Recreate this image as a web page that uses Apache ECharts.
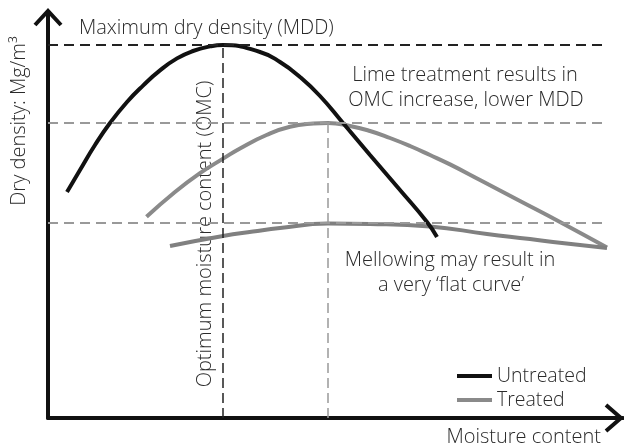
<!DOCTYPE html>
<html>
<head>
<meta charset="utf-8">
<script src="https://cdn.jsdelivr.net/npm/echarts@6/dist/echarts.min.js"></script>
<style>html,body{margin:0;padding:0;background:#fff}#c{width:624px;height:446px}</style>
</head>
<body>
<div id="c"></div>
<script>
// Schematic compaction curves (arbitrary units: moisture content 0-115, dry density 0-101.5)
var untreated = [[3.8,56.5],[6.4,62],[9.4,68.25],[12.4,73.75],[15.8,79],[19,83.1],[22.4,86.9],[25.8,89.9],[29,91.75],[32.4,92.9],[35,93.25],[42.4,91.5],[46.4,89],[50.4,85.25],[54.4,80.5],[59,73.75],[64.4,65.75],[70.4,57],[75.8,49],[77.8,45.25]];
var treated = [[19.7,50.3],[25.1,56.2],[30.4,61.2],[35.1,64.9],[38.4,67.4],[43.7,70.75],[48.4,72.8],[53.1,73.6],[56,73.75],[60.4,73],[64.4,71.75],[68.4,70],[72.4,68],[76.4,65.75],[80.4,63.4],[86.4,59.5],[94.4,54.25],[102.4,49],[111.8,42.6]];
var mellowed = [[24.4,43],[35,45.5],[41,46.6],[46.4,47.5],[56,48.6],[64.4,48.5],[76.4,47.9],[87.8,46],[96.4,44.75],[101,44],[111.8,42.5]];
var mddUntreated = 93.25, omcUntreated = 35;
var mddTreated = 73.75, omcTreated = 56;
var mddMellowed = 48.75;
var guideEnd = 111;

var chart = echarts.init(document.getElementById('c'));
var FONT = '"Open Sans", "Noto Sans", sans-serif';
var TXT = '#2a2a2a';
var F = '300 20px ' + FONT;
function dashed(color){ return {color:color, width:2, type:[10,6]}; }
chart.setOption({
  animation:false,
  grid:{left:48, top:12, right:1, bottom:28},
  xAxis:{type:'value', min:0, max:115, axisLine:{lineStyle:{color:'#111', width:4}}, axisTick:{show:false}, axisLabel:{show:false}, splitLine:{show:false}},
  yAxis:{type:'value', min:0, max:101.5, axisLine:{show:true, lineStyle:{color:'#111', width:4}}, axisTick:{show:false}, axisLabel:{show:false}, splitLine:{show:false}},
  legend:{data:['Untreated','Treated'], orient:'vertical', left:457, top:366, padding:0, itemWidth:35, itemHeight:4, itemGap:4, icon:'rect',
    textStyle:{fontFamily:FONT, fontWeight:300, fontSize:19.5, color:TXT, lineHeight:18}},
  series:[
    {name:'guides', type:'line', data:[], silent:true,
      markLine:{symbol:'none', silent:true, label:{show:false}, data:[
        [{coord:[0,mddUntreated], lineStyle:dashed('#222')},{coord:[guideEnd,mddUntreated]}],
        [{coord:[omcUntreated,0], lineStyle:{color:'#222', width:1.5, type:[10,5]}},{coord:[omcUntreated,mddUntreated]}],
        [{coord:[0,mddTreated], lineStyle:dashed('#999')},{coord:[guideEnd,mddTreated]}],
        [{coord:[omcTreated,0], lineStyle:{color:'#999', width:1.5, type:[10,5]}},{coord:[omcTreated,mddTreated]}],
        [{coord:[0,mddMellowed], lineStyle:dashed('#999')},{coord:[guideEnd,mddMellowed]}]
      ]}},
    {name:'Treated', type:'line', data:treated, smooth:0.5, showSymbol:false, lineStyle:{color:'#8a8a8a', width:4}, itemStyle:{color:'#8a8a8a'}},
    {name:'Mellowed', type:'line', data:mellowed, smooth:0.5, showSymbol:false, lineStyle:{color:'#808080', width:4}, itemStyle:{color:'#808080'}},
    {name:'Untreated', type:'line', data:untreated, smooth:0.5, showSymbol:false, lineStyle:{color:'#111', width:4}, itemStyle:{color:'#111'}}
  ],
  graphic:[
    {type:'polyline', shape:{points:[[35,25],[48,11],[61,25]]}, style:{stroke:'#111', lineWidth:4, fill:null}},
    {type:'polyline', shape:{points:[[606,405],[621,418],[606,431]]}, style:{stroke:'#111', lineWidth:4, fill:null}},
    {type:'text', x:79, y:28, style:{text:'Maximum dry density (MDD)', font:F, fill:TXT, verticalAlign:'middle'}},
    {type:'text', x:465, y:75, style:{text:'Lime treatment results in', font:F, fill:TXT, align:'center', verticalAlign:'middle'}},
    {type:'text', x:466, y:100, style:{text:'OMC increase, lower MDD', font:F, fill:TXT, align:'center', verticalAlign:'middle'}},
    {type:'text', x:450, y:260, style:{text:'Mellowing may result in', font:F, fill:TXT, align:'center', verticalAlign:'middle'}},
    {type:'text', x:451, y:285, style:{text:'a very \u2018flat curve\u2019', font:F, fill:TXT, align:'center', verticalAlign:'middle'}},
    {type:'text', x:205, y:234, rotation:Math.PI/2, style:{text:'Optimum moisture content (OMC)', font:F, fill:TXT, align:'center', verticalAlign:'middle'}},
    {type:'text', x:19, y:121, rotation:Math.PI/2, style:{text:'Dry density: Mg/m\u00B3', font:F, fill:TXT, align:'center', verticalAlign:'middle'}},
    {type:'text', x:601, y:437, style:{text:'Moisture content', font:F, fill:TXT, align:'right', verticalAlign:'middle'}}
  ]
});
</script>
</body>
</html>
